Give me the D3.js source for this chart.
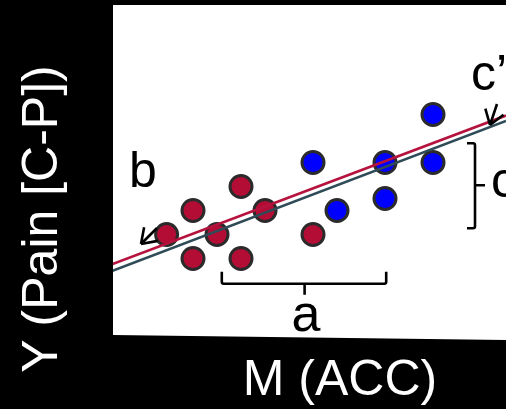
<!DOCTYPE html>
<meta charset="utf-8">
<html>
    <head>
        <style type="text/css">
            body { margin:0; background:#000; }
            svg { display:block; }
            .graphText {
                font-family: "Liberation Sans", Arial, sans-serif;
            }
        </style>
        <script src="https://d3js.org/d3.v7.min.js"></script>
    </head>
    <body>
        <svg width="506" height="409"></svg>
        <script type="text/javascript">
            var width = 506;
            var height = 409;

            // points, in grid units (M on x, Y on y)
            var redX = [0.9, 2, 3, 4, 5, 2, 4, 7];
            var redY = [1, 2, 1, 3, 2, 0, 0, 1];
            var blueX = [7, 8, 10, 10, 12, 12];
            var blueY = [4, 2, 4, 2.5, 6, 4];

            // fitted lines: [intercept, slope]
            var redLine = [0.28, 0.3775];
            var slateLine = [0.0, 0.381];

            var xTitle = "M (ACC)";
            var yTitle = "Y (Pain [C-P])";

            var xScale = d3.scaleLinear().domain([0, 12]).range([145, 433]);
            var yScale = d3.scaleLinear().domain([0, 6]).range([258.5, 114.5]);
            var xMin = xScale.invert(112), xMax = xScale.invert(506);

            var svg = d3.select("svg");

            // white plot panel (bottom edge slightly tilted like the scan)
            var panel = [[113, 5], [506, 5], [506, 340], [113, 335]];
            svg.append("clipPath").attr("id", "panelClip")
                .append("polygon").attr("points", panel.join(" "));
            svg.append("polygon")
                .attr("points", panel.join(" "))
                .attr("fill", "#fff");

            var plot = svg.append("g").attr("clip-path", "url(#panelClip)");

            var red = redX.map((x, i) => ({x: x, y: redY[i]}));
            var blue = blueX.map((x, i) => ({x: x, y: blueY[i]}));

            plot.selectAll("circle.red")
                .data(red)
                .enter().append("circle")
                .attr("class", "red")
                .attr("cx", d => xScale(d.x))
                .attr("cy", d => yScale(d.y))
                .attr("r", 11)
                .attr("fill", "#b30c35")
                .attr("stroke", "#2b2b2b")
                .attr("stroke-width", 3);

            plot.selectAll("circle.blue")
                .data(blue)
                .enter().append("circle")
                .attr("class", "blue")
                .attr("cx", d => xScale(d.x))
                .attr("cy", d => yScale(d.y))
                .attr("r", 11)
                .attr("fill", "#0000ff")
                .attr("stroke", "#2b2b2b")
                .attr("stroke-width", 3);

            var fit = d3.line().x(d => xScale(d[0])).y(d => yScale(d[1]));
            [[slateLine, "#2f4b57"], [redLine, "#b5123d"]].forEach(l => {
                var c = l[0];
                plot.append("path")
                    .attr("d", fit([[xMin, c[0] + c[1] * xMin], [xMax, c[0] + c[1] * xMax]]))
                    .attr("fill", "none")
                    .attr("stroke", l[1])
                    .attr("stroke-width", 2.6);
            });

            // brackets
            var bracket = plot.append("g")
                .attr("fill", "none")
                .attr("stroke", "#000")
                .attr("stroke-width", 2.6);

            // a : under the points
            var ax0 = xScale(3.2), ax1 = xScale(10.05), ay = yScale(-1.05), am = xScale(6.65);
            bracket.append("path")
                .attr("d", "M" + ax0 + "," + (ay - 12) + " L" + ax0 + "," + (ay - 2) +
                    " Q" + ax0 + "," + ay + " " + (ax0 + 2) + "," + ay +
                    " L" + (ax1 - 2) + "," + ay + " Q" + ax1 + "," + ay + " " + ax1 + "," + (ay - 2) +
                    " L" + ax1 + "," + (ay - 12) +
                    " M" + am + "," + ay + " L" + am + "," + (ay + 11));

            // c : on the right
            var cx = xScale(13.75), cy0 = yScale(4.8), cy1 = yScale(1.26), cm = yScale(3.05);
            bracket.append("path")
                .attr("d", "M" + (cx - 8) + "," + cy0 + " L" + (cx - 2) + "," + cy0 +
                    " Q" + cx + "," + cy0 + " " + cx + "," + (cy0 + 2) +
                    " L" + cx + "," + (cy1 - 2) + " Q" + cx + "," + cy1 + " " + (cx - 2) + "," + cy1 +
                    " L" + (cx - 8) + "," + cy1 +
                    " M" + cx + "," + cm + " L" + (cx + 10) + "," + cm);

            // arrows for b and c'
            function arrow(x0, y0, x1, y1) {
                var ang = Math.atan2(y0 - y1, x0 - x1);
                var h = 17, spread = 0.6;
                var p = "M" + x0 + "," + y0 + " L" + x1 + "," + y1;
                [ang - spread, ang + spread].forEach(a => {
                    p += " M" + x1 + "," + y1 + " L" + (x1 + h * Math.cos(a)) + "," + (y1 + h * Math.sin(a));
                });
                bracket.append("path").attr("d", p);
            }
            arrow(157, 228, 141, 244);
            arrow(497, 104, 490, 125);

            // letters
            var labels = plot.append("g")
                .attr("class", "graphText")
                .attr("font-size", 50)
                .attr("fill", "#000");
            labels.append("text").attr("x", 129).attr("y", 187).text("b");
            labels.append("text").attr("x", 306).attr("y", 331).attr("font-size", 52).attr("text-anchor", "middle").text("a");
            labels.append("text").attr("x", 471).attr("y", 90).text("c\u2019");
            labels.append("text").attr("x", 491).attr("y", 197).text("c");

            // axis titles
            svg.append("text")
                .attr("class", "graphText")
                .attr("x", 340)
                .attr("y", 395)
                .attr("font-size", 50)
                .attr("fill", "#fff")
                .attr("text-anchor", "middle")
                .text(xTitle);

            svg.append("text")
                .attr("class", "graphText")
                .attr("transform", "translate(57,219) rotate(-90)")
                .attr("font-size", 50)
                .attr("fill", "#fff")
                .attr("text-anchor", "middle")
                .text(yTitle);
        </script>
    </body>
</html>
